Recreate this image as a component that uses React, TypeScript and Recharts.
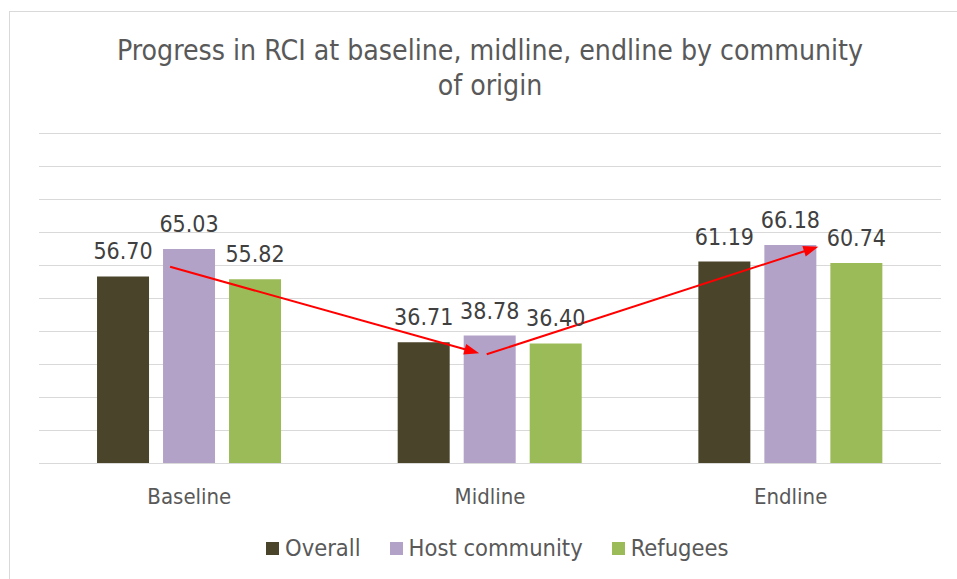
import React from 'react';
import {
  BarChart,
  Bar,
  XAxis,
  YAxis,
  CartesianGrid,
  Legend,
  LabelList,
  ReferenceLine,
} from 'recharts';

// Survey rounds and RCI scores per group
const rounds = ['Baseline', 'Midline', 'Endline'];
const overall = [56.7, 36.71, 61.19];
const hostCommunity = [65.03, 38.78, 66.18];
const refugees = [55.82, 36.4, 60.74];
const yTicks = [0, 10, 20, 30, 40, 50, 60, 70, 80, 90, 100];
// Centre of each round on a continuous 0..3 position scale
const roundSlots = [0.5, 1.5, 2.5];

// Trend arrows: positions on the 0..3 round scale and RCI values
const arrowFrom = [
  { pos: 0.436, value: 59.6 },
  { pos: 1.489, value: 33.1 },
];
const arrowTo = [
  { pos: 1.464, value: 33.4 },
  { pos: 2.592, value: 65.7 },
];

const seriesOrder = ['Overall', 'Host community', 'Refugees'];

const data = rounds.map((round, i) => ({
  round,
  slot: roundSlots[i],
  overall: overall[i],
  host: hostCommunity[i],
  refugees: refugees[i],
}));

const FONT = "'DejaVu Sans Condensed', 'DejaVu Sans', sans-serif";
const GRID = '#d9d9d9';

const ArrowShape = (props: any) => {
  const { x1, y1, x2, y2 } = props;
  const dx = x2 - x1;
  const dy = y2 - y1;
  const len = Math.sqrt(dx * dx + dy * dy);
  const ux = dx / len;
  const uy = dy / len;
  const headLen = 15;
  const halfW = 5.5;
  const bx = x2 - ux * headLen;
  const by = y2 - uy * headLen;
  const pts = [
    `${x2},${y2}`,
    `${bx - uy * halfW},${by + ux * halfW}`,
    `${bx + uy * halfW},${by - ux * halfW}`,
  ].join(' ');
  return (
    <g>
      <line x1={x1} y1={y1} x2={bx + ux * 2} y2={by + uy * 2} stroke="#ff0000" strokeWidth={2} />
      <polygon points={pts} fill="#ff0000" />
    </g>
  );
};

const RoundTick = (props: any) => {
  const { x, y, payload } = props;
  return (
    <text x={x} y={y + 40.5} textAnchor="middle" fill="#595959" fontSize={22} fontFamily={FONT}>
      {payload.value}
    </text>
  );
};

const LegendContent = (props: any) => {
  const items = [...(props.payload || [])].sort(
    (a: any, b: any) => seriesOrder.indexOf(a.value) - seriesOrder.indexOf(b.value),
  );
  return (
    <div
      style={{
        display: 'flex',
        alignItems: 'center',
        paddingLeft: 256,
        columnGap: 29,
        fontFamily: FONT,
        fontSize: 23.5,
        lineHeight: '23px',
        color: '#595959',
      }}
    >
      {items.map((p: any) => (
        <div key={p.value} style={{ display: 'flex', alignItems: 'center' }}>
          <span style={{ display: 'inline-block', width: 13, height: 13, background: p.color, marginRight: 6 }} />
          <span>{p.value}</span>
        </div>
      ))}
    </div>
  );
};

const valueLabel = (v: any) => Number(v).toFixed(2);

export default function App() {
  const W = 960;
  const H = 600;
  return (
    <div style={{ position: 'absolute', left: 0, top: 0, width: 957, height: 579, overflow: 'hidden', background: '#fff' }}>
      <div
        style={{
          position: 'absolute',
          left: 9,
          top: 11,
          width: W,
          height: H,
          border: `1px solid ${GRID}`,
          background: '#fff',
        }}
      >
        <svg width={W} height={110} style={{ position: 'absolute', left: 0, top: 0 }}>
          <text x={W / 2} y={48} textAnchor="middle" fill="#595959" fontSize={28.2} fontFamily={FONT}>
            Progress in RCI at baseline, midline, endline by community
          </text>
          <text x={W / 2} y={83} textAnchor="middle" fill="#595959" fontSize={28.2} fontFamily={FONT}>
            of origin
          </text>
        </svg>
        <div style={{ position: 'absolute', left: 0, top: 0 }}>
          <BarChart
            width={W}
            height={H}
            data={data}
            margin={{ top: 121.5, right: 29, bottom: 88.5, left: 29 }}
            barCategoryGap="19.3%"
            barGap={14}
          >
            <CartesianGrid vertical={false} stroke={GRID} strokeWidth={1} />
            <XAxis
              dataKey="round"
              height={60}
              axisLine={{ stroke: GRID, strokeWidth: 1 }}
              tickLine={false}
              tickSize={0}
              tickMargin={0}
              tick={<RoundTick />}
            />
            <XAxis
              xAxisId="pos"
              dataKey="slot"
              type="number"
              domain={[0, 3]}
              allowDataOverflow
              hide
            />
            <YAxis hide domain={[0, 100]} ticks={yTicks} />
            <Bar dataKey="overall" name="Overall" fill="#4a452a" isAnimationActive={false}>
              <LabelList dataKey="overall" position="top" offset={17} formatter={valueLabel} fill="#404040" fontSize={23} fontFamily={FONT} />
            </Bar>
            <Bar dataKey="host" name="Host community" fill="#b3a2c7" isAnimationActive={false}>
              <LabelList dataKey="host" position="top" offset={17} formatter={valueLabel} fill="#404040" fontSize={23} fontFamily={FONT} />
            </Bar>
            <Bar dataKey="refugees" name="Refugees" fill="#9bbb59" isAnimationActive={false}>
              <LabelList dataKey="refugees" position="top" offset={17} formatter={valueLabel} fill="#404040" fontSize={23} fontFamily={FONT} />
            </Bar>
            {arrowFrom.map((a, i) => (
              <ReferenceLine
                key={i}
                xAxisId="pos"
                segment={[
                  { x: a.pos, y: a.value },
                  { x: arrowTo[i].pos, y: arrowTo[i].value },
                ]}
                ifOverflow="visible"
                shape={<ArrowShape />}
              />
            ))}
            <Legend
              verticalAlign="middle"
              layout="horizontal"
              content={<LegendContent />}
              wrapperStyle={{ top: 525, left: 0, width: W, height: 23 }}
            />
          </BarChart>
        </div>
      </div>
    </div>
  );
}
